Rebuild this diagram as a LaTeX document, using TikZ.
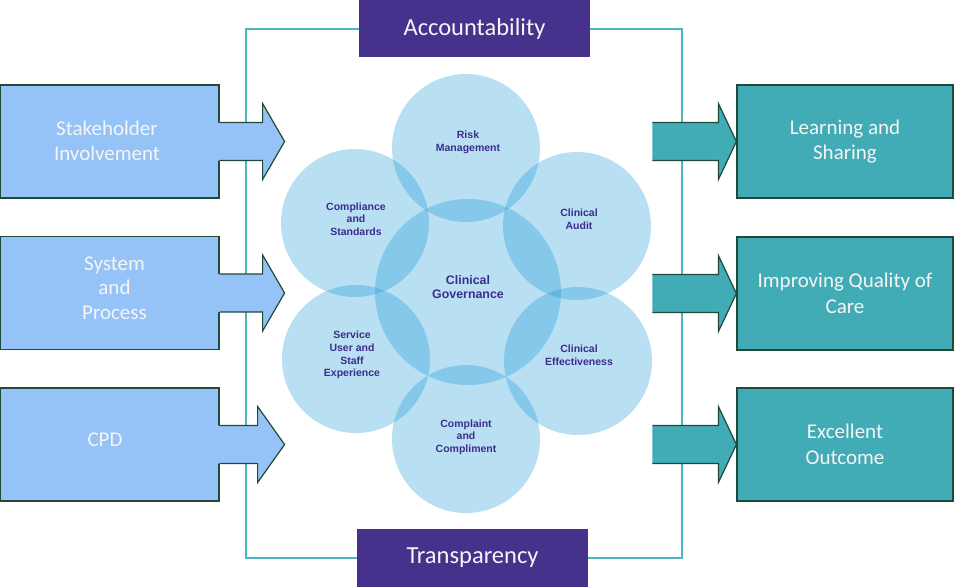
\documentclass[tikz,border=0pt]{standalone}
\usepackage{fontspec}
\setmainfont{Carlito}
\newfontfamily\arialfont{Liberation Sans}
\usepackage{tikz}
\usetikzlibrary{calc}

\definecolor{inblue}{RGB}{149,195,247}
\definecolor{outteal}{RGB}{65,172,182}
\definecolor{edgegreen}{RGB}{31,73,56}
\definecolor{frameteal}{RGB}{75,181,192}
\definecolor{govpurple}{RGB}{70,49,140}
\definecolor{circpurple}{RGB}{60,45,140}
\definecolor{circblue}{RGB}{3,141,209}
\definecolor{boxtext}{RGB}{245,245,245}

\begin{document}
\begin{tikzpicture}[x=1pt,y=-1pt,
		edgeline/.style={draw=edgegreen, line width=1.2pt},
		inbox/.style={fill=inblue, edgeline, minimum width=219pt, minimum height=113pt, inner sep=0pt},
		outbox/.style={fill=outteal, edgeline, minimum width=216pt, minimum height=113pt, text=boxtext, align=center, font=\fontsize{21}{25.5}\selectfont},
		intext/.style={text=boxtext, align=center, font=\fontsize{21}{24.5}\selectfont},
		topbox/.style={fill=govpurple, minimum width=231pt, minimum height=57pt, text=boxtext, font=\fontsize{24.5}{28}\selectfont},
		frameline/.style={draw=frameteal, line width=1.8pt},
		circfill/.style={fill=circblue, fill opacity=0.28},
		circtext/.style={text=circpurple, align=center, font=\arialfont\bfseries\fontsize{10.5}{12.7}\selectfont}]
		\useasboundingbox (0,0) rectangle (954,587);
		% frame round the circles
		\draw[frameline] (246,29) rectangle (682,558);
		% circles
		\fill[circfill] (466,148) circle (74pt);
		\fill[circfill] (355,223) circle (74pt);
		\fill[circfill] (577,226) circle (74pt);
		\fill[circfill] (468,292) circle (93pt);
		\fill[circfill] (356,359) circle (74pt);
		\fill[circfill] (578,361) circle (74pt);
		\fill[circfill] (466,439) circle (74pt);
		\node[circtext] (riskT) at (468,142) {Risk\\Management};
		\node[circtext] (compT) at (356,219) {Compliance\\and\\Standards};
		\node[circtext] (auditT) at (579,219) {Clinical\\Audit};
		\node[circtext, font=\arialfont\bfseries\fontsize{12.4}{14.7}\selectfont] (govT) at (468,287) {Clinical\\Governance};
		\node[circtext] (servT) at (352,355) {Service\\User and\\Staff\\Experience};
		\node[circtext] (effT) at (579,355) {Clinical\\Effectiveness};
		\node[circtext] (complT) at (466,437) {Complaint\\and\\Compliment};
		% inputs on the left
		\node[inbox] (stake) at (109.5,141.5) {};
		\fill[inblue] ($(stake.east)+(-2,-19)$) -- ++(45,0) -- ++(0,-19) -- ++(22,38) -- ++(-22,38) -- ++(0,-19) -- ++(-45,0) -- cycle;
		\draw[edgeline] ($(stake.east)+(0,-19)$) -- ++(43,0) -- ++(0,-19) -- ++(22,38) -- ++(-22,38) -- ++(0,-19) -- ++(-43,0);
		\node[intext] (stakeT) at (107,141) {Stakeholder\\Involvement};
		\node[inbox] (sys) at (109.5,293) {};
		\fill[inblue] ($(sys.east)+(-2,-19)$) -- ++(45,0) -- ++(0,-19) -- ++(22,38) -- ++(-22,38) -- ++(0,-19) -- ++(-45,0) -- cycle;
		\draw[edgeline] ($(sys.east)+(0,-19)$) -- ++(43,0) -- ++(0,-19) -- ++(22,38) -- ++(-22,38) -- ++(0,-19) -- ++(-43,0);
		\node[intext] (sysT) at (114.5,288) {System\\and\\Process};
		\node[inbox] (cpd) at (109.5,444.5) {};
		\fill[inblue] ($(cpd.east)+(-2,-19)$) -- ++(40,0) -- ++(0,-19) -- ++(27,38) -- ++(-27,38) -- ++(0,-19) -- ++(-40,0) -- cycle;
		\draw[edgeline] ($(cpd.east)+(0,-19)$) -- ++(38,0) -- ++(0,-19) -- ++(27,38) -- ++(-27,38) -- ++(0,-19) -- ++(-38,0);
		\node[intext] (cpdT) at (105,440) {CPD};
		% outcomes on the right
		\node[outbox] (learn) at (845,141.5) {Learning and\\Sharing};
		\fill[outteal] ($(learn.west)+(-84,-19)$) -- ++(66,0) -- ++(0,-19) -- (learn.west) -- ++(-18,38) -- ++(0,-19) -- ++(-66,0) -- cycle;
		\draw[edgeline] ($(learn.west)+(-84,-19)$) -- ++(66,0) -- ++(0,-19) -- (learn.west) -- ++(-18,38) -- ++(0,-19) -- ++(-66,0);
		\node[outbox] (quality) at (845,293.5) {Improving Quality of\\Care};
		\fill[outteal] ($(quality.west)+(-84,-19)$) -- ++(66,0) -- ++(0,-19) -- (quality.west) -- ++(-18,38) -- ++(0,-19) -- ++(-66,0) -- cycle;
		\draw[edgeline] ($(quality.west)+(-84,-19)$) -- ++(66,0) -- ++(0,-19) -- (quality.west) -- ++(-18,38) -- ++(0,-19) -- ++(-66,0);
		\node[outbox] (excel) at (845,444.5) {Excellent\\Outcome};
		\fill[outteal] ($(excel.west)+(-84,-19)$) -- ++(66,0) -- ++(0,-19) -- (excel.west) -- ++(-18,38) -- ++(0,-19) -- ++(-66,0) -- cycle;
		\draw[edgeline] ($(excel.west)+(-84,-19)$) -- ++(66,0) -- ++(0,-19) -- (excel.west) -- ++(-18,38) -- ++(0,-19) -- ++(-66,0);
		% top and bottom
		\node[topbox] (acc) at (474.5,28.5) {Accountability};
		\node[topbox, minimum height=58pt] (transp) at (472.5,558) {Transparency};
\end{tikzpicture}
\end{document}
